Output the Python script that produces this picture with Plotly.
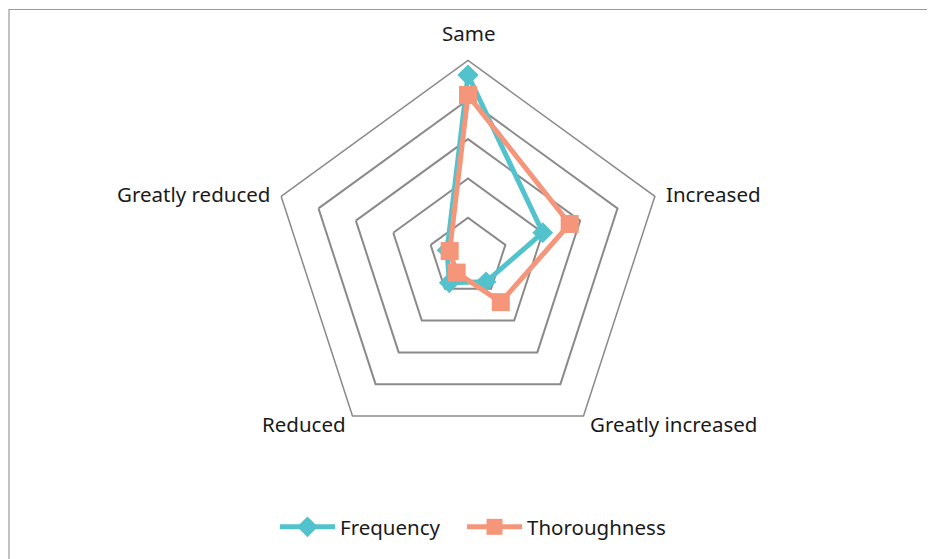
import math
import plotly.graph_objects as go

categories = ["Same", "Increased", "Greatly increased", "Reduced", "Greatly reduced"]
frequency = [46.3, 20.0, 7.8, 8.1, 5.6]
thoroughness = [41.2, 27.2, 14.2, 4.9, 4.9]

W, H = 935, 559
OFF = 8  # page body margin
cx, cy, R = 468 - OFF, 257 - OFF, 196.5

fig = go.Figure()
fig.add_trace(go.Scatterpolar(
    r=frequency + frequency[:1], theta=categories + categories[:1],
    mode="lines+markers", name="Frequency", legend="legend", showlegend=True,
    line=dict(color="#52c3cc", width=5),
    marker=dict(symbol="diamond", size=16, color="#52c3cc"),
))
fig.add_trace(go.Scatterpolar(
    r=thoroughness + thoroughness[:1], theta=categories + categories[:1],
    mode="lines+markers", name="Thoroughness", legend="legend2", showlegend=True,
    line=dict(color="#f5967a", width=5),
    marker=dict(symbol="square", size=18, color="#f5967a"),
))

# category labels placed around the outer pentagon
annotations = []
n = len(categories)
for i, cat in enumerate(categories):
    ang = math.pi / 2 - 2 * math.pi * i / n
    dx, dy = math.cos(ang), math.sin(ang)
    vx, vy = cx + R * dx, cy - R * dy
    if abs(dx) < 0.01:
        ax, ay, xa, ya = vx, vy - 11, "center", "bottom"
    elif dy > 0:
        ax, ay, xa, ya = vx + (9 if dx > 0 else -9), vy - 2, ("left" if dx > 0 else "right"), "middle"
    else:
        ax, ay, xa, ya = vx + (5 if dx > 0 else -5), vy + 8, ("left" if dx > 0 else "right"), "middle"
    annotations.append(dict(text=cat, x=ax / W, y=1 - ay / H, xref="paper", yref="paper",
                            xanchor=xa, yanchor=ya, showarrow=False,
                            font=dict(size=20.5, color="#1a1a1a")))

legend_style = dict(orientation="h", xanchor="left", y=1 - (527 - OFF) / H, yanchor="middle",
                    font=dict(size=20.5, color="#1a1a1a"), itemwidth=55,
                    bgcolor="rgba(0,0,0,0)")

fig.update_layout(
    width=W, height=H,
    showlegend=True,
    margin=dict(l=0, r=0, t=0, b=0),
    paper_bgcolor="white", plot_bgcolor="white",
    font=dict(family="Noto Sans, Open Sans, sans-serif", size=20, color="#1a1a1a"),
    polar=dict(
        domain=dict(x=[(cx - R) / W, (cx + R) / W], y=[1 - (cy + R) / H, 1 - (cy - R) / H]),
        bgcolor="white",
        gridshape="linear",
        radialaxis=dict(range=[0, 50], dtick=10, showticklabels=False, ticks="",
                        showline=False, gridcolor="#8a8a8a", gridwidth=1.5),
        angularaxis=dict(rotation=90, direction="clockwise", showgrid=False,
                         showline=True, linecolor="#8a8a8a", linewidth=1.5, ticks="",
                         showticklabels=False),
    ),
    annotations=annotations,
    legend=dict(x=(275 - OFF) / W, **legend_style),
    legend2=dict(x=(462 - OFF) / W, **legend_style),
    shapes=[dict(type="rect", xref="paper", yref="paper",
                 x0=1 / W, x1=(930 - OFF) / W, y0=-0.02, y1=1 - 1.5 / H,
                 line=dict(color="#9a9a9a", width=1.2))],
)

fig.write_html("out.html")
